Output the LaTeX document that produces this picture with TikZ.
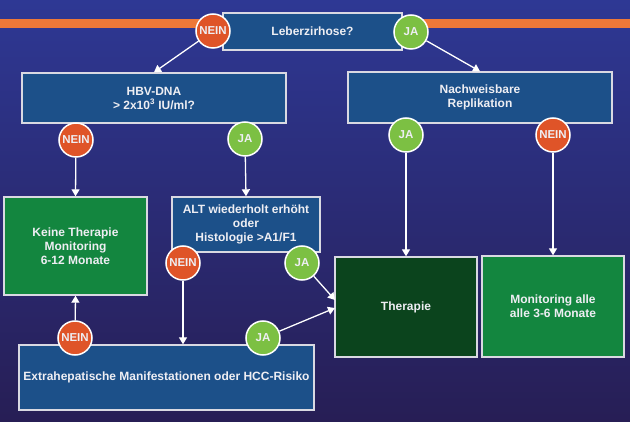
\documentclass[tikz,border=0pt]{standalone}
\usepackage{fontspec}
\setmainfont{Liberation Sans}
\usepackage{xcolor}
\usepackage{tikz}
\usetikzlibrary{arrows.meta,calc}
\definecolor{bgTop}{HTML}{2E3894}
\definecolor{bgBottom}{HTML}{271E55}
\definecolor{stripeOrange}{HTML}{EE7838}
\definecolor{boxBlue}{HTML}{1C5089}
\definecolor{boxGreen}{HTML}{13863F}
\definecolor{boxDark}{HTML}{0B441D}
\definecolor{neinRed}{HTML}{DF5428}
\definecolor{jaGreen}{HTML}{7CC043}
\definecolor{rimGray}{HTML}{D9D9E2}
\definecolor{txtWhite}{HTML}{EEEEF3}

\begin{document}
\begin{tikzpicture}[x=1pt,y=-1pt,
    qbox/.style={rectangle,draw=rimGray,fill=boxBlue,line width=1.4pt,
                 align=center,text=txtWhite,inner sep=2pt,
                 font=\bfseries\fontsize{12}{14}\selectfont},
    greenbox/.style={qbox,fill=boxGreen},
    darkbox/.style={qbox,fill=boxDark},
    nein/.style={circle,draw=white,fill=neinRed,line width=1.5pt,
                 minimum size=34pt,inner sep=0pt,text=txtWhite,
                 font=\bfseries\fontsize{11.5}{13}\selectfont},
    ja/.style={nein,fill=jaGreen},
    pfeil/.style={draw=white,line width=1.3pt,
                  -{Triangle[width=8pt,length=7pt]}}
  ]
  % background and stripe
  \shade[top color=bgTop,bottom color=bgBottom] (0,0) rectangle (630,422);
  \fill[stripeOrange] (0,19) rectangle (630,28);
  % question boxes
  \node[qbox,minimum width=179pt,minimum height=37pt] (zirr) at (312.5,31.5) {Leberzirhose?};
  \node[qbox,minimum width=264pt,minimum height=50pt] (hbv) at (154,98)
       {HBV-DNA\\> 2x10\textsuperscript{3} IU/ml?};
  \node[qbox,minimum width=264pt,minimum height=51pt] (repl) at (480,97.5)
       {Nachweisbare\\Replikation};
  \node[qbox,minimum width=148pt,minimum height=55pt] (alt) at (246,224.5)
       {ALT wiederholt erhöht\\oder\\Histologie >A1/F1};
  \node[qbox,minimum width=295pt,minimum height=65pt] (extra) at (166.5,377.5)
       {Extrahepatische Manifestationen oder HCC-Risiko};
  % result boxes
  \node[greenbox,minimum width=143pt,minimum height=98pt] (keine) at (75.5,246)
       {Keine Therapie\\Monitoring\\6-12 Monate};
  \node[darkbox,minimum width=142pt,minimum height=100pt] (ther) at (406,307) {Therapie};
  \node[greenbox,minimum width=142pt,minimum height=101pt] (mon) at (553,306.5)
       {Monitoring alle\\alle 3-6 Monate};
  % answers
  \node[nein] (n1) at (213,31) {NEIN};
  \node[ja]   (j1) at (411,32) {JA};
  \node[nein] (n2) at (76,140) {NEIN};
  \node[ja]   (j2) at (245,139) {JA};
  \node[ja]   (j3) at (406,135) {JA};
  \node[nein] (n3) at (553,135) {NEIN};
  \node[nein] (n4) at (183,263) {NEIN};
  \node[ja]   (j4) at (302,263) {JA};
  \node[nein] (n5) at (75,338) {NEIN};
  \node[ja]   (j5) at (263,338) {JA};
  \coordinate (tin1) at (335,300);
  \coordinate (tin2) at (335,308);
  % connectors
  \draw[pfeil] (n1) -- (hbv.north);
  \draw[pfeil] (j1) -- (repl.north);
  \draw[pfeil] (n2) -- (keine.north);
  \draw[pfeil] (j2) -- (alt.north);
  \draw[pfeil] (j3) -- (ther.north);
  \draw[pfeil] (n3) -- (mon.north);
  \draw[pfeil] (n4) -- (n4 |- extra.north);
  \draw[pfeil] (j4) -- (tin1);
  \draw[pfeil] (j5) -- (tin2);
  \draw[pfeil] (n5) -- (keine.south);
\end{tikzpicture}
\end{document}
